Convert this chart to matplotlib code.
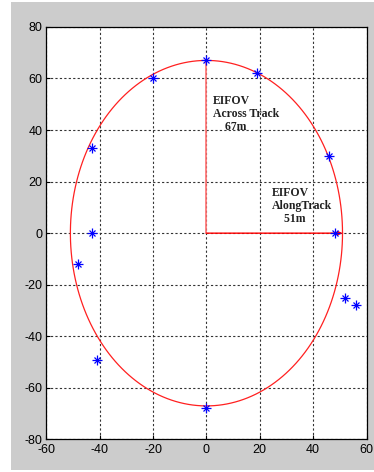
import numpy as np
import matplotlib.pyplot as plt
from matplotlib.patches import Rectangle

plt.rcParams['axes.unicode_minus'] = False

# measured points (m)
px = [0, -20, 19, -43, 46, -43, 48, -48, 52, 56, -41, 0]
py = [67, 60, 62, 33, 30, 0, 0, -12, -25, -28, -49, -68]

# EIFOV ellipse semi-axes
along = 51
across = 67

xticks = [-60, -40, -20, 0, 20, 40, 60]
yticks = [-80, -60, -40, -20, 0, 20, 40, 60, 80]

fig = plt.figure(figsize=(3.74, 4.72), dpi=100)
fig.patch.set_facecolor('white')
fig.patches.append(Rectangle((11 / 374, 2 / 472), 363 / 374, 468 / 472,
                             transform=fig.transFigure, facecolor='#cccccc',
                             edgecolor='none', zorder=-5))

ax = fig.add_axes([0.124, 0.069, 0.856, 0.874])
ax.set_facecolor('white')

t = np.linspace(0, 2 * np.pi, 200)
ax.plot(along * np.cos(t), across * np.sin(t), color='#ff2020', lw=0.9, zorder=3)
ax.plot([0, 0], [0, across], color='#ff7070', lw=1.2, zorder=3)
ax.annotate('', xy=(along, 0), xytext=(0, 0),
            arrowprops=dict(arrowstyle='-|>', color='red', lw=1.0,
                            mutation_scale=6, shrinkA=0, shrinkB=0), zorder=3)

ax.plot(px, py, linestyle='none', marker='+', ms=7, mew=0.9, color='blue', zorder=4)
ax.plot(px, py, linestyle='none', marker='x', ms=5, mew=0.9, color='blue', zorder=4)

font = dict(family=['Liberation Serif', 'DejaVu Serif'], fontweight='bold', fontsize=8.5,
            color='#222222', linespacing=1.1, va='top', ha='left')
ax.text(2.4, 53.5, 'EIFOV\nAcross Track\n    67m', **font)
ax.text(24.4, 18.0, 'EIFOV\nAlongTrack\n    51m', **font)

ax.set_xlim(-60, 60)
ax.set_ylim(-80, 80)
ax.set_xticks(xticks)
ax.set_yticks(yticks)
ax.tick_params(direction='in', length=3, labelsize=9, pad=3, colors='black')
for lab in ax.get_xticklabels() + ax.get_yticklabels():
    lab.set_fontfamily('Liberation Sans')
ax.grid(True, color='#333333', linestyle=(0, (2, 2)), linewidth=0.8)
ax.set_axisbelow(True)
for s in ax.spines.values():
    s.set_linewidth(0.9)
    s.set_color('black')

plt.savefig('out.png', dpi=100)
plt.close()
